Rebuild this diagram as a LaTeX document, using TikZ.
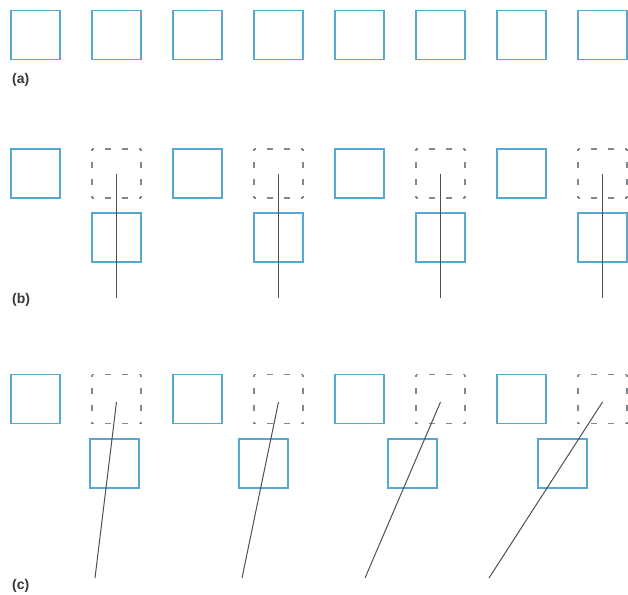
\documentclass[tikz,border=0pt]{standalone}
\usepackage{fontspec}
\setmainfont{Liberation Sans}
\definecolor{sqblue}{RGB}{86,168,208}
\definecolor{ghostgray}{RGB}{130,135,140}
\definecolor{rodgray}{RGB}{80,80,80}
\definecolor{labgray}{RGB}{55,55,55}
\tikzset{
  sq/.style={draw=sqblue, line width=1.4pt, minimum size=49pt, inner sep=0pt, outer sep=0pt},
  ghost/.style={minimum size=49pt, inner sep=0pt, outer sep=0pt},
  ghostline/.style={draw=ghostgray, line width=1.3pt,
    dash pattern=on 4pt off 11pt on 6pt off 11pt on 6pt off 11pt, dash phase=2pt},
  rod/.style={draw=rodgray, line width=1pt},
  lab/.style={font=\bfseries\fontsize{14}{16}\selectfont, text=labgray, anchor=west, inner sep=0pt}
}
\newcommand\ghostsides[1]{%
  \draw[ghostline] (#1.north west) -- (#1.north east);
  \draw[ghostline] (#1.north east) -- (#1.south east);
  \draw[ghostline] (#1.south east) -- (#1.south west);
  \draw[ghostline] (#1.south west) -- (#1.north west);
}
\begin{document}
\begin{tikzpicture}[x=1pt,y=-1pt]
\useasboundingbox (0,0) rectangle (628,594);
% row (a)
\foreach \i in {0,...,7} \node[sq] (a\i) at ({35.5+81*\i},35) {};
\node[lab] (la) at (12,80) {(a)};
% row (b)
\foreach \k in {0,...,3} {
  \node[sq] (bs\k) at ({35.5+162*\k},173.5) {};
  \node[ghost] (bg\k) at ({116.5+162*\k},173.5) {};
  \ghostsides{bg\k}
  \node[sq] (bl\k) at ({116.5+162*\k},237.5) {};
  \coordinate (be\k) at ({116.5+162*\k},298);
  \draw[rod] (bg\k.center) -- (be\k);
}
\node[lab] (lb) at (12,300) {(b)};
% row (c)
\foreach \k/\lx/\bx in {0/114.5/95, 1/263.5/242, 2/412.5/365, 3/562.5/489} {
  \node[sq] (cs\k) at ({35.5+162*\k},399) {};
  \node[ghost] (cg\k) at ({116.5+162*\k},399) {};
  \ghostsides{cg\k}
  \node[sq] (cl\k) at (\lx,463.5) {};
  \coordinate (ct\k) at ({116.5+162*\k},402);
  \coordinate (ce\k) at (\bx,578);
  \draw[rod] (ct\k) -- (ce\k);
}
\node[lab] (lc) at (12,586) {(c)};
\end{tikzpicture}
\end{document}
